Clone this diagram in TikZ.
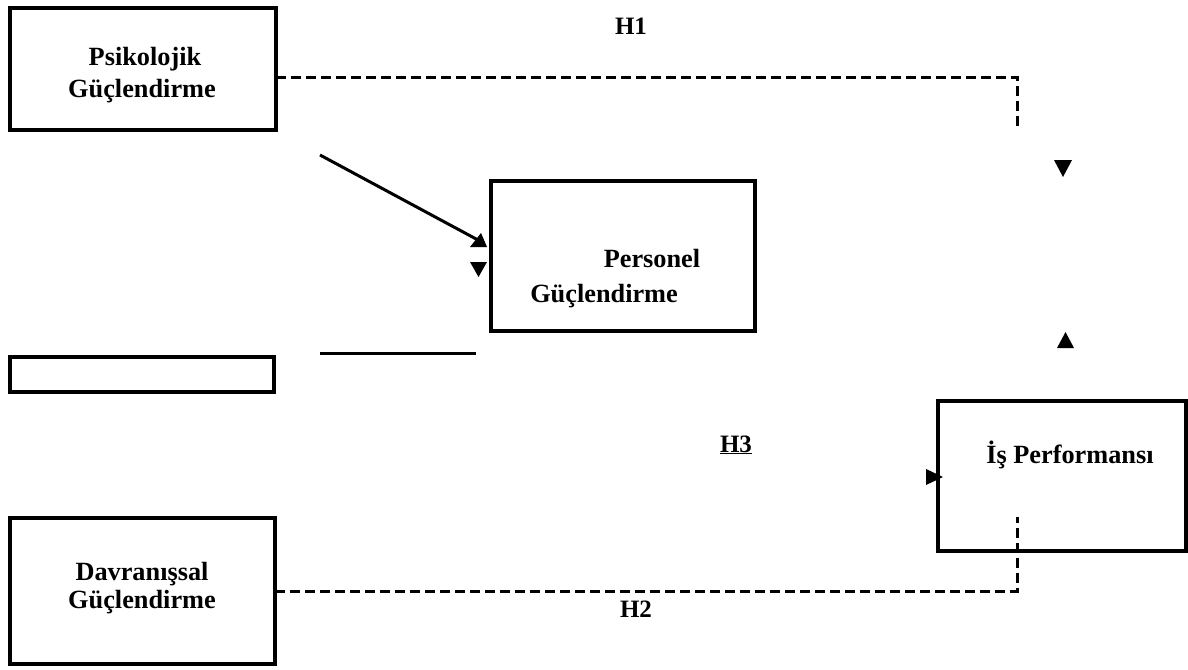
\documentclass[tikz,border=0pt]{standalone}
\usepackage{fontspec}
\setmainfont{Liberation Serif}
\usetikzlibrary{calc}
\begin{document}
\begin{tikzpicture}[x=1pt,y=-1pt,
  box/.style={draw,line width=3.5pt,inner sep=0pt,outer sep=0pt},
  lbl/.style={font=\fontsize{26.3}{30}\selectfont\bfseries,inner sep=0pt,anchor=base},
  hlbl/.style={font=\fontsize{25}{28}\selectfont\bfseries,inner sep=0pt,anchor=base},
  dsh/.style={line width=3pt,dash pattern=on 10pt off 5pt},
  sol/.style={line width=3pt},
  tri/.style={fill=black}]
\useasboundingbox (0,0) rectangle (1188,669);
% boxes
\node[box,minimum width=266pt,minimum height=122pt] (psy) at (143,69) {};
\node[box,minimum width=264pt,minimum height=150pt] (pers) at (623,256) {};
\node[box,minimum width=264pt,minimum height=35pt] (empty) at (142,374.5) {};
\node[box,minimum width=265pt,minimum height=146pt] (dav) at (142.5,591) {};
\node[box,minimum width=248pt,minimum height=150pt] (perf) at (1062,476) {};
% texts
\node[lbl] (psyA) at (145,66) {Psikolojik};
\node[lbl] (psyB) at (142,97) {Güçlendirme};
\node[lbl] (davA) at (142,580) {Davranışsal};
\node[lbl] (davB) at (142,608) {Güçlendirme};
\node[lbl] (persA) at (652,267) {Personel};
\node[lbl,anchor=base east] (persB) at (678,302) {Güçlendirme};
\node[lbl] (perfA) at (1070,463) {İş Performansı};
\node[hlbl] (h1) at (631,35) {H1};
\node[hlbl] (h2) at (636,617) {H2};
\node[hlbl] (h3) at (736,452) {\underline{H3}};
% coordinates
\coordinate (a1) at (320,155);
\coordinate (a2) at (478,240);
\coordinate (l1) at (320,353);
\coordinate (l2) at (476,353);
\coordinate (c1) at (1017,77);
\coordinate (c2) at (1017,130);
\coordinate (d1) at (1017,591);
\coordinate (d2) at (1017,517);
% connectors
\draw[sol] (a1) -- (a2);
\draw[sol] (l1) -- (l2);
\draw[dsh] (psy.east |- c1) -- (c1) -- (c2);
\draw[dsh] (dav.east) -- (d1) -- (d2);
% triangles
\fill[tri] (470,247) -- (487,247) -- (481,233) -- cycle;
\fill[tri] (470,262) -- (487,262) -- (478.5,277) -- cycle;
\fill[tri] (1054,160) -- (1072,160) -- (1063,177) -- cycle;
\fill[tri] (1057,348) -- (1074,348) -- (1065.5,332) -- cycle;
\fill[tri] (926,469) -- (926,485) -- (943,477) -- cycle;
\end{tikzpicture}
\end{document}
